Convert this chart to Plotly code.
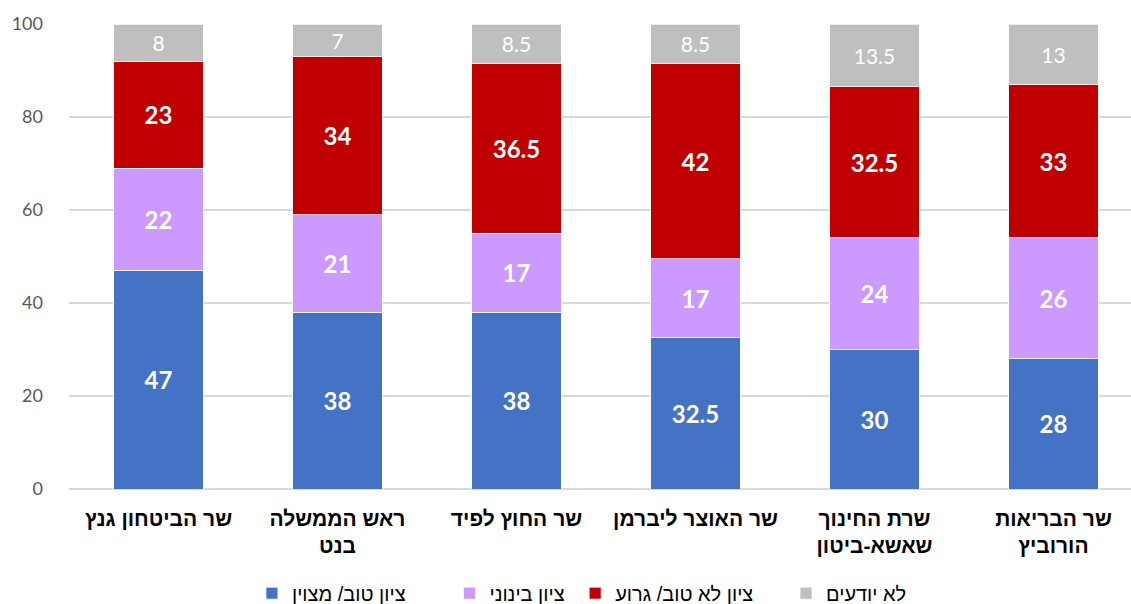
import plotly.graph_objects as go

categories = ["שר הביטחון גנץ", "ראש הממשלה<br>בנט", "שר החוץ לפיד",
              "שר האוצר ליברמן", "שרת החינוך<br>שאשא-ביטון", "שר הבריאות<br>הורוביץ"]
good = [47, 38, 38, 32.5, 30, 28]
medium = [22, 21, 17, 17, 24, 26]
bad = [23, 34, 36.5, 42, 32.5, 33]
unknown = [8, 7, 8.5, 8.5, 13.5, 13]

series = [
    ("ציון טוב/ מצוין", good, "#4472C4", True, 7),
    ("ציון בינוני", medium, "#CC99FF", True, 1),
    ("ציון לא טוב/ גרוע", bad, "#C00000", True, 5),
    ("לא יודעים", unknown, "#BFBFBF", False, 0),
]

fig = go.Figure()
for name, vals, color, bold, npad in series:
    fig.add_trace(go.Bar(
        x=list(range(len(categories))), y=vals,
        name=name + "\u00a0" * npad,
        marker=dict(color=color, line=dict(color="white", width=0.75)),
        width=0.5,
        text=[("<b>%g</b>" % v) if bold else ("%g" % v) for v in vals],
        textposition="inside", insidetextanchor="middle",
        constraintext="none",
        textfont=dict(color="white", size=24 if bold else 21,
                      family="Lato, Open Sans, sans-serif"),
        hoverinfo="skip",
    ))

fig.update_layout(
    barmode="stack",
    width=1131, height=604,
    margin=dict(l=69, r=0, t=24, b=115, autoexpand=False),
    paper_bgcolor="white", plot_bgcolor="white",
    showlegend=True,
    legend=dict(orientation="h", x=0.483, xanchor="center", y=-0.224, yanchor="middle",
                font=dict(size=20, color="#000000", family="Liberation Sans, Arial, sans-serif"),
                itemwidth=30, traceorder="normal"),
    xaxis=dict(
        tickmode="array", tickvals=list(range(len(categories))), ticktext=categories,
        range=[-0.5, 5.433], showgrid=False, zeroline=False, showline=False,
        tickfont=dict(size=21, color="#000000", family="Liberation Sans, Arial, sans-serif",
                      weight="bold"),
        ticks="", ticklabelstandoff=15, automargin=False,
    ),
    yaxis=dict(
        range=[0, 100], tickvals=[0, 20, 40, 60, 80, 100],
        showgrid=True, gridcolor="#D9D9D9", gridwidth=1.5,
        zeroline=True, zerolinecolor="#D9D9D9", zerolinewidth=1.5,
        tickfont=dict(size=18, color="#595959", family="Lato, Open Sans, sans-serif"),
        ticks="", ticklabelstandoff=25, automargin=False,
    ),
)

fig.write_html("out.html", config={"displayModeBar": False},
               post_script="document.body.style.margin='0px';")
